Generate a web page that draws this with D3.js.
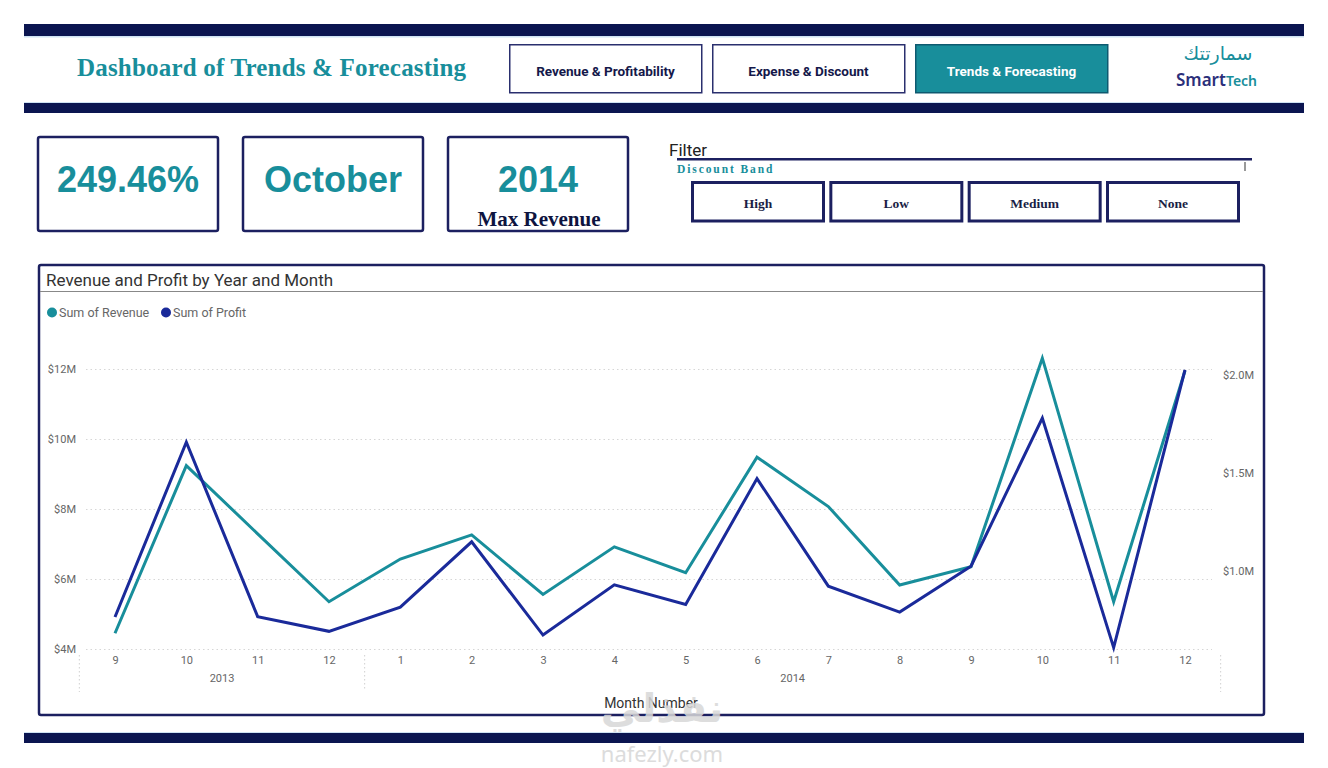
<!DOCTYPE html>
<html><head><meta charset="utf-8">
<script src="https://cdn.jsdelivr.net/npm/d3@7"></script>
<style>
html,body{margin:0;padding:0;background:#fff;}
svg{display:block;}
</style></head>
<body>
<svg id="root" width="1328" height="768"></svg>
<script>
// ---- data ----
const months = ["9","10","11","12","1","2","3","4","5","6","7","8","9","10","11","12"];
const years = ["2013","2013","2013","2013","2014","2014","2014","2014","2014","2014","2014","2014","2014","2014","2014","2014"];
const revenue = [4.45,9.24,7.29,5.35,6.57,7.26,5.56,6.92,6.18,9.48,8.07,5.83,6.35,12.31,5.35,11.95]; // $M
const profit  = [0.763,1.654,0.765,0.690,0.813,1.146,0.671,0.927,0.827,1.468,0.920,0.788,1.022,1.776,0.607,2.022]; // $M
const leftTicks = [4,6,8,10,12];
const rightTicks = [1.0,1.5,2.0];
const kpis = [{v:"249.46%",sub:""},{v:"October",sub:""},{v:"2014",sub:"Max Revenue"}];
const navItems = ["Revenue & Profitability","Expense & Discount","Trends & Forecasting"];
const bands = ["High","Low","Medium","None"];
const seriesNames = ["Sum of Revenue","Sum of Profit"];

const NAVY="#0b1550", TEAL="#188e9b", PROF="#1a2a9a";
const svg = d3.select("#root");

// header bars
svg.append("rect").attr("x",24).attr("y",24).attr("width",1280).attr("height",12).attr("fill",NAVY);
svg.append("rect").attr("x",24).attr("y",36).attr("width",1280).attr("height",1.5).attr("fill","#cfe3f3");
svg.append("rect").attr("x",24).attr("y",102).attr("width",1280).attr("height",1.5).attr("fill","#cfe3f3");
svg.append("rect").attr("x",24).attr("y",103).attr("width",1280).attr("height",10).attr("fill",NAVY);
svg.append("rect").attr("x",24).attr("y",732).attr("width",1280).attr("height",1.5).attr("fill","#cfe3f3");
svg.append("rect").attr("x",24).attr("y",733).attr("width",1280).attr("height",10).attr("fill",NAVY);

svg.append("text").attr("x",77).attr("y",76).attr("fill",TEAL)
  .style("font","bold 25px 'Liberation Serif', serif").attr("textLength",389)
  .text("Dashboard of Trends & Forecasting");

// nav buttons
const navX = d3.scalePoint().domain(navItems).range([509,915]);
navItems.forEach((n,i)=>{
  const x=navX(n), active=i===2;
  svg.append("rect").attr("x",x+0.75).attr("y",44.75).attr("width",192).attr("height",48)
    .attr("fill",active?TEAL:"#fff").attr("stroke",active?"#0e5a70":"#2a2f6e").attr("stroke-width",1.5);
  svg.append("text").attr("x",x+96.5).attr("y",76).attr("text-anchor","middle")
    .attr("fill",active?"#fff":"#14184a").style("font","bold 13.5px Roboto, sans-serif").text(n);
});
// logo
svg.append("text").attr("x",1218).attr("y",60).attr("text-anchor","middle").attr("fill",TEAL)
  .style("font","500 19px 'Noto Sans', 'DejaVu Sans', sans-serif").text("سمارتتك");
const lg = svg.append("text").attr("x",1176).attr("y",86).style("font","600 17px 'Noto Sans', sans-serif");
lg.append("tspan").attr("fill","#2b2f7a").text("Smart");
lg.append("tspan").attr("fill",TEAL).style("font-size","14px").text("Tech");

// KPI cards
const kx = d3.scalePoint().domain(d3.range(kpis.length)).range([38,448]);
kpis.forEach((k,i)=>{
  const x=kx(i);
  svg.append("rect").attr("x",x).attr("y",137).attr("width",180).attr("height",94).attr("rx",2)
    .attr("fill","#fff").attr("stroke","#1c2060").attr("stroke-width",2.5);
  svg.append("text").attr("x",x+90).attr("y",192).attr("text-anchor","middle").attr("fill",TEAL)
    .style("font","bold 36px 'Liberation Sans', Arial, sans-serif").text(k.v);
  if(k.sub) svg.append("text").attr("x",x+91).attr("y",226).attr("text-anchor","middle").attr("fill","#0e1440")
    .style("font","bold 21px 'Liberation Serif', serif").text(k.sub);
});

// filter
svg.append("text").attr("x",669).attr("y",156).attr("fill","#222").style("font","17px Roboto, sans-serif").text("Filter");
svg.append("rect").attr("x",677).attr("y",158).attr("width",575).attr("height",2.5).attr("fill","#1c2060");
svg.append("text").attr("x",677).attr("y",173).attr("fill",TEAL).style("font","bold 11.5px 'Liberation Serif', serif")
  .style("letter-spacing","1.9px").text("Discount Band");
svg.append("rect").attr("x",1244).attr("y",162).attr("width",2).attr("height",9).attr("fill","#999");
const bx = d3.scalePoint().domain(bands).range([691,1106]);
bands.forEach(b=>{
  const x=bx(b);
  svg.append("rect").attr("x",x+1.5).attr("y",182.5).attr("width",131).attr("height",38.5)
    .attr("fill","#fff").attr("stroke","#1c2060").attr("stroke-width",3);
  svg.append("text").attr("x",x+67).attr("y",208).attr("text-anchor","middle").attr("fill","#1a1d45")
    .style("font","bold 13.5px 'Liberation Serif', serif").text(b);
});

// chart card
svg.append("rect").attr("x",39).attr("y",265).attr("width",1225).attr("height",450).attr("rx",2)
  .attr("fill","#fff").attr("stroke","#1c2060").attr("stroke-width",2.5);
svg.append("text").attr("x",46).attr("y",286).attr("fill","#333").style("font","17px Roboto, sans-serif")
  .text("Revenue and Profit by Year and Month");
svg.append("line").attr("x1",40).attr("x2",1263).attr("y1",291.5).attr("y2",291.5).attr("stroke","#888").attr("stroke-width",1);

// legend
const lgX=[52,166], lgC=[TEAL,PROF];
seriesNames.forEach((s,i)=>{
  svg.append("circle").attr("cx",lgX[i]).attr("cy",312.5).attr("r",5).attr("fill",lgC[i]);
  svg.append("text").attr("x",lgX[i]+7).attr("y",317).attr("fill","#666").style("font","12.5px Roboto, sans-serif").text(s);
});

// scales
const idx = d3.range(months.length);
const x = d3.scalePoint().domain(idx).range([115,1185]);
const yL = d3.scaleLinear().domain([4,12.8]).range([649,341]);
const yR = d3.scaleLinear().domain([0.6,2.169]).range([649,341]);

// gridlines
const g = svg.append("g");
g.selectAll("line.grid").data(leftTicks).join("line")
  .attr("x1",86).attr("x2",1212).attr("y1",d=>yL(d)+0.5).attr("y2",d=>yL(d)+0.5)
  .attr("stroke","#d6d6d6").attr("stroke-width",1).attr("stroke-dasharray","1.5,3");

// left axis
const axL = svg.append("g").attr("transform","translate(76,0)")
  .call(d3.axisLeft(yL).tickValues(leftTicks).tickFormat(d=>"$"+d+"M").tickSize(0).tickPadding(0));
axL.select(".domain").remove();
axL.selectAll("text").attr("fill","#666").style("font","11px Roboto, sans-serif").attr("dy","0.35em");

// right axis
const axR = svg.append("g").attr("transform","translate(1223,0)")
  .call(d3.axisRight(yR).tickValues(rightTicks).tickFormat(d=>"$"+d3.format(".1f")(d)+"M").tickSize(0).tickPadding(0));
axR.select(".domain").remove();
axR.selectAll("text").attr("fill","#666").style("font","11px Roboto, sans-serif").attr("dy","0.35em");

// x axis
const axX = svg.append("g").attr("transform","translate(0,653)")
  .call(d3.axisBottom(x).tickFormat(i=>months[i]).tickSize(0).tickPadding(3));
axX.select(".domain").remove();
axX.selectAll("text").attr("fill","#666").style("font","11px Roboto, sans-serif");

// year groups
const yearGroups = d3.groups(idx, i=>years[i]);
const step = x.step();
yearGroups.forEach(([yr,arr])=>{
  const x0=x(arr[0])-step/2, x1=x(arr[arr.length-1])+step/2;
  svg.append("text").attr("x",(x0+x1)/2).attr("y",682).attr("text-anchor","middle").attr("fill","#666")
    .style("font","11px Roboto, sans-serif").text(yr);
});
const seps=[x(0)-step/2].concat(yearGroups.map(([yr,arr])=>x(arr[arr.length-1])+step/2));
seps.forEach((s,k)=>{
  svg.append("line").attr("x1",s).attr("x2",s).attr("y1",655).attr("y2",k===0||k===seps.length-1?692:690)
    .attr("stroke","#d0d0d0").attr("stroke-dasharray","1.5,2.5");
});
svg.append("text").attr("x",651).attr("y",708).attr("text-anchor","middle").attr("fill","#333")
  .style("font","14px Roboto, sans-serif").text("Month Number");

// lines
const lineR = d3.line().x(i=>x(i)).y(i=>yL(revenue[i]));
const lineP = d3.line().x(i=>x(i)).y(i=>yR(profit[i]));
svg.append("path").attr("d",lineR(idx)).attr("fill","none").attr("stroke",TEAL).attr("stroke-width",3).attr("stroke-linejoin","miter");
svg.append("path").attr("d",lineP(idx)).attr("fill","none").attr("stroke",PROF).attr("stroke-width",3).attr("stroke-linejoin","miter");

// watermark
svg.append("text").attr("x",662).attr("y",722).attr("text-anchor","middle").attr("fill","#d8d8d8").attr("opacity",0.85)
  .style("font","bold 40px 'Noto Sans', 'DejaVu Sans', sans-serif").text("نفذلي");
svg.append("text").attr("x",662).attr("y",762).attr("text-anchor","middle").attr("fill","#dcdcdc")
  .style("font","22px 'Noto Sans', sans-serif").text("nafezly.com");
</script>
</body></html>
